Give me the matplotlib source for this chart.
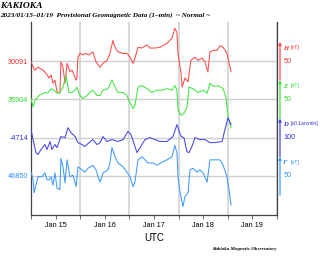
import numpy as np
import matplotlib
matplotlib.use("Agg")
import matplotlib.pyplot as plt
import matplotlib.dates as mdates
import matplotlib.transforms as mtransforms

# ---- data (hours since 2023-01-15 00:00 UTC, values) ----
h_hours = [0, 1.8, 3.4, 5.9, 7.3, 8.8, 9.8, 10.7, 11.7, 12.7, 14.1, 14.6, 15.6, 16.6, 17.6, 19.0, 20.0, 21.0, 22.0, 22.4,
           22.9, 23.9, 25.4, 26.8, 28.3, 30.2, 31.7, 33.7, 35.1, 37.1, 38.5, 40.0, 41.0, 42.4, 44.9, 46.8, 48.3, 49.8,
           50.7, 52.2, 54.1, 56.6, 58.0, 60.5, 62.9, 66.3, 68.8, 70.2, 71.2, 71.7, 73.2, 73.7, 75.1, 76.6, 78.0, 80.0,
           81.5, 83.4, 84.9, 86.3, 87.3, 88.8, 90.7, 92.2, 93.7, 95.6, 97.6]
h_vals = [30090, 30079, 30083, 30079, 30075, 30069, 30073, 30062, 30066, 30051, 30049, 30090, 30083, 30062, 30088, 30077,
          30079, 30073, 30066, 30069, 30096, 30101, 30099, 30101, 30099, 30103, 30090, 30083, 30088, 30092, 30101, 30118,
          30109, 30103, 30101, 30101, 30096, 30088, 30095, 30109, 30108, 30112, 30108, 30108, 30109, 30114, 30121, 30134,
          30128, 30101, 30075, 30057, 30069, 30064, 30092, 30096, 30092, 30095, 30090, 30077, 30103, 30105, 30105, 30111,
          30109, 30101, 30077]

z_hours = [0, 1.0, 2.0, 3.9, 6.8, 8.3, 9.8, 11.2, 12.7, 14.1, 15.6, 17.1, 18.5, 20.0, 21.5, 22.4, 23.9, 25.4, 27.3, 28.8,
           30.2, 32.2, 33.7, 35.1, 37.6, 39.5, 41.0, 42.4, 44.9, 46.8, 48.3, 49.8, 50.7, 52.2, 54.1, 56.6, 59.0, 61.5,
           63.9, 66.3, 68.8, 70.2, 71.2, 71.7, 73.2, 74.6, 76.1, 77.1, 79.0, 81.5, 83.9, 85.9, 87.3, 88.8, 91.2, 93.7,
           95.1, 96.1, 97.6]
z_vals = [35905, 35894, 35903, 35909, 35913, 35912, 35918, 35916, 35912, 35913, 35920, 35935, 35913, 35913, 35916, 35920,
          35909, 35905, 35909, 35913, 35916, 35909, 35909, 35916, 35918, 35929, 35920, 35913, 35913, 35909, 35899, 35892,
          35896, 35920, 35922, 35918, 35913, 35916, 35916, 35918, 35916, 35922, 35916, 35890, 35883, 35886, 35894, 35920,
          35918, 35913, 35916, 35912, 35925, 35921, 35922, 35918, 35907, 35881, 35867]

d_hours = [0, 1.0, 2.4, 3.4, 4.9, 6.8, 7.8, 9.3, 10.2, 11.7, 12.7, 14.6, 16.6, 18.0, 19.5, 21.5, 22.9, 24.9, 26.3, 28.3,
           30.2, 32.2, 33.7, 35.1, 37.1, 39.5, 42.4, 44.9, 47.3, 48.8, 50.7, 51.7, 53.2, 55.6, 58.0, 60.5, 62.9, 66.3,
           69.3, 71.2, 71.7, 73.2, 74.6, 76.1, 77.1, 78.5, 80.0, 82.4, 84.9, 87.3, 89.8, 93.2, 94.6, 96.1, 97.6]
d_vals = [-4693, -4719, -4753, -4758, -4745, -4732, -4745, -4724, -4745, -4732, -4740, -4711, -4714, -4688, -4701, -4711,
          -4727, -4732, -4737, -4727, -4719, -4732, -4727, -4711, -4724, -4719, -4724, -4719, -4698, -4706, -4737, -4753,
          -4740, -4719, -4714, -4719, -4724, -4724, -4711, -4680, -4688, -4711, -4714, -4751, -4753, -4737, -4714, -4719,
          -4719, -4727, -4727, -4724, -4693, -4662, -4680]

f_hours = [0, 1.0, 1.5, 2.4, 3.4, 5.4, 6.8, 7.8, 8.8, 9.8, 10.7, 11.7, 12.7, 14.1, 14.6, 15.6, 16.6, 17.6, 19.0, 20.5,
           22.0, 22.9, 23.9, 26.3, 27.8, 30.2, 31.7, 32.7, 33.7, 35.1, 37.6, 38.5, 39.5, 41.0, 42.4, 44.9, 46.8, 48.3,
           49.8, 50.7, 52.2, 54.1, 55.6, 57.1, 59.5, 61.5, 63.9, 66.3, 68.8, 70.2, 71.2, 71.7, 72.7, 74.1, 75.1, 76.6,
           77.6, 79.0, 81.0, 82.4, 83.9, 85.9, 87.3, 88.8, 90.7, 92.2, 93.7, 95.6, 96.6, 97.6]
f_vals = [46855, 46845, 46828, 46838, 46849, 46849, 46854, 46845, 46845, 46849, 46838, 46854, 46834, 46832, 46873, 46862,
          46841, 46871, 46849, 46851, 46836, 46862, 46860, 46855, 46860, 46864, 46858, 46849, 46842, 46854, 46858, 46867,
          46887, 46875, 46867, 46862, 46855, 46849, 46836, 46842, 46871, 46875, 46871, 46867, 46867, 46864, 46868, 46871,
          46875, 46890, 46880, 46849, 46829, 46810, 46823, 46828, 46858, 46860, 46855, 46858, 46854, 46842, 46871, 46871,
          46871, 46871, 46864, 46849, 46832, 46812]

components = ["H", "Z", "D", "F"]
baselines = [30091, 35904, -4714, 46850]
scale_steps = [50, 50, 100, 50]
units = ["[nT]", "[nT]", "[x0.1arcmin]", "[nT]"]
colors = ["#ff4a4a", "#3fe83f", "#4545e6", "#3d9bff"]
label_colors = ["#ff3030", "#30e030", "#3030dd", "#3090ff"]

series_hours = [h_hours, z_hours, d_hours, f_hours]
series_vals = [h_vals, z_vals, d_vals, f_vals]

start = np.datetime64("2023-01-15T00:00")

fig = plt.figure(figsize=(3.20, 2.61), dpi=100)
ax = fig.add_axes([31 / 320, 1 - 215 / 261, 246 / 320, 193 / 261])

levels = [3, 2, 1, 0]
for hrs, vals, base, step, lev, col in zip(series_hours, series_vals, baselines, scale_steps, levels, colors):
    t = start + (np.array(hrs) * 60).round().astype("timedelta64[m]")
    y = (np.array(vals) - base) / step + lev
    ax.plot(t.astype("datetime64[ms]").astype(object), y, color=col, lw=0.75, zorder=3)

ax.set_ylim(-1.02, 4.02)
ax.set_xlim(np.datetime64("2023-01-15T00:00").astype(object), np.datetime64("2023-01-20T00:00").astype(object))

ax.set_yticks(levels)
ax.set_yticklabels([str(b) for b in baselines], fontsize=5.2, family="Liberation Sans")
for lbl, c in zip(ax.get_yticklabels(), label_colors):
    lbl.set_color(c)
ax.tick_params(axis="y", length=0, pad=2)
ax.yaxis.grid(True, color="#cfcfcf", lw=1.0, zorder=1)

ax.xaxis.set_major_locator(mdates.DayLocator())
ax.xaxis.set_major_formatter(plt.NullFormatter())
ax.xaxis.set_minor_locator(mdates.HourLocator(byhour=[12]))
ax.xaxis.set_minor_formatter(mdates.DateFormatter("%b %d"))
ax.tick_params(axis="x", which="both", length=3, width=0.6, color="#555555", labelsize=5.2, pad=2)
for lbl in ax.get_xticklabels(minor=True):
    lbl.set_family("Liberation Sans")
ax.xaxis.grid(True, which="major", color="#d8d8d8", lw=1.4, zorder=1)
ax.set_xlabel("UTC", fontsize=7, family="Liberation Sans", labelpad=3)

for side in ["left", "right", "bottom"]:
    ax.spines[side].set_color("#444444")
    ax.spines[side].set_linewidth(0.9)
ax.spines["top"].set_visible(False)

# scale bars on the right
trans = mtransforms.blended_transform_factory(ax.transAxes, ax.transData)
xb = (280 - 31) / 246
for comp, unit, step, lev, col, lc in zip(components, units, scale_steps, levels, colors, label_colors):
    ax.annotate("", xy=(xb, lev + 0.5), xytext=(xb, lev - 0.5), xycoords=trans, textcoords=trans,
                arrowprops=dict(arrowstyle="-|>", color=col, lw=0.9, mutation_scale=4, shrinkA=0, shrinkB=0),
                annotation_clip=False)
    ax.text(xb + 0.012, lev + 0.34, comp, transform=trans, color=lc, fontsize=4.8,
            family="Liberation Serif", style="italic", weight="bold", va="center", ha="left", clip_on=False)
    ax.text(xb + 0.042, lev + 0.36, unit, transform=trans, color=lc, fontsize=3.6,
            family="Liberation Sans", va="center", ha="left", clip_on=False)
    ax.text(xb + 0.015, lev, str(step), transform=trans, color=lc, fontsize=5.2,
            family="Liberation Sans", va="center", ha="left", clip_on=False)

fig.text(0.5 / 320, 1 - 2 / 261, "KAKIOKA", fontsize=6.8, family="Liberation Serif", style="italic",
         weight="bold", va="top", ha="left")
fig.text(0.5 / 320, 1 - 12.5 / 261, "2023/01/15\u201301/19  Provisional Geomagnetic Data (1\u2013min)  ~ Normal ~",
         fontsize=5.1, family="Liberation Serif", style="italic", weight="bold", va="top", ha="left")
fig.text(277 / 320, 1 - 249 / 261, "Kakioka Magnetic Observatory", fontsize=3.6, family="Liberation Serif",
         style="italic", weight="bold", va="center", ha="right")

fig.savefig("out.png", dpi=100)
